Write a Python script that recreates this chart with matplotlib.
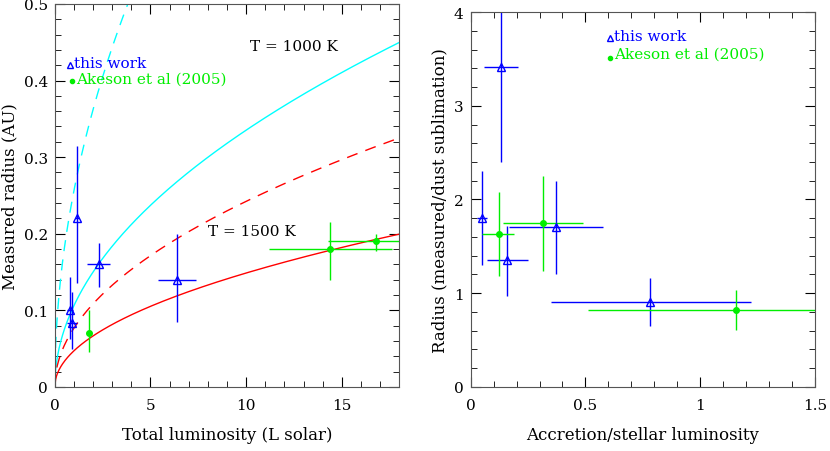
import numpy as np
import matplotlib
matplotlib.use("Agg")
import matplotlib.pyplot as plt
from matplotlib.ticker import MultipleLocator, FuncFormatter

plt.rcParams["font.family"] = "DejaVu Serif"

# left panel: radius vs total luminosity
lum_tw = [0.8, 0.9, 1.15, 2.3, 6.4]
rad_tw = [0.10, 0.083, 0.22, 0.16, 0.14]
rad_tw_lo = [0.037, 0.033, 0.085, 0.03, 0.055]
rad_tw_hi = [0.044, 0.041, 0.095, 0.028, 0.06]
lum_tw_err = [0.15, 0.25, 0.1, 0.6, 1.0]

lum_ak = [1.8, 14.4, 16.8]
rad_ak = [0.07, 0.18, 0.19]
rad_ak_lo = [0.025, 0.04, 0.012]
rad_ak_hi = [0.03, 0.035, 0.01]
lum_ak_lo = [0.0, 3.2, 2.5]
lum_ak_hi = [0.0, 3.2, 1.5]

# sqrt(L) sublimation radius coefficients
coef_1000 = 0.106
coef_1500 = 0.047
coef_1000_dash = 0.256
coef_1500_dash = 0.0766

# right panel: ratio vs accretion/stellar luminosity
acc_tw = [0.134, 0.05, 0.16, 0.37, 0.78]
acc_tw_lo = [0.074, 0.02, 0.09, 0.203, 0.432]
acc_tw_hi = [0.071, 0.02, 0.09, 0.205, 0.44]
ratio_tw = [3.41, 1.8, 1.35, 1.71, 0.91]
ratio_tw_lo = [1.01, 0.5, 0.38, 0.51, 0.26]
ratio_tw_hi = [0.7, 0.5, 0.37, 0.49, 0.25]

acc_ak = [0.122, 0.317, 1.154]
acc_ak_lo = [0.072, 0.177, 0.644]
acc_ak_hi = [0.068, 0.173, 0.65]
ratio_ak = [1.63, 1.75, 0.82]
ratio_ak_lo = [0.45, 0.51, 0.21]
ratio_ak_hi = [0.45, 0.5, 0.21]

BLUE = "#0000ff"
GREEN = "#00ee00"


def short(v, pos):
    return f"{v:g}"


fig = plt.figure(figsize=(8.3, 4.52), dpi=100)
ax1 = fig.add_axes([0.066, 0.142, 0.415, 0.847])
ax2 = fig.add_axes([0.567, 0.142, 0.415, 0.829])

L = np.linspace(0, 18, 400)
ax1.plot(L, coef_1000 * np.sqrt(L), color="cyan", lw=1)
ax1.plot(L, coef_1500 * np.sqrt(L), color="red", lw=1)
ax1.plot(L, coef_1000_dash * np.sqrt(L), color="cyan", lw=1, ls=(0, (8, 6)))
ax1.plot(L, coef_1500_dash * np.sqrt(L), color="red", lw=1, ls=(0, (8, 6)))

ax1.errorbar(lum_tw, rad_tw, xerr=lum_tw_err, yerr=[rad_tw_lo, rad_tw_hi],
             fmt="^", mfc="none", mec=BLUE, ms=6, color=BLUE, ecolor=BLUE,
             elinewidth=1, capsize=0)
ax1.errorbar(lum_ak, rad_ak, xerr=[lum_ak_lo, lum_ak_hi], yerr=[rad_ak_lo, rad_ak_hi],
             fmt="o", ms=4, color=GREEN, ecolor=GREEN, elinewidth=1, capsize=0)

ax1.plot([0.8], [0.42], "^", mfc="none", mec=BLUE, ms=5)
ax1.text(1.0, 0.423, "this work", color=BLUE, fontsize=11, va="center")
ax1.plot([0.9], [0.40], "o", color=GREEN, ms=3)
ax1.text(1.1, 0.403, "Akeson et al (2005)", color=GREEN, fontsize=11, va="center")
ax1.text(10.2, 0.44, "T = 1000 K", fontsize=11)
ax1.text(8.0, 0.198, "T = 1500 K", fontsize=11)

ax1.set_xlim(0, 18)
ax1.set_ylim(0, 0.5)
ax1.xaxis.set_major_locator(MultipleLocator(5))
ax1.xaxis.set_minor_locator(MultipleLocator(1))
ax1.yaxis.set_major_locator(MultipleLocator(0.1))
ax1.yaxis.set_minor_locator(MultipleLocator(0.02))
ax1.set_xlabel("Total luminosity (L solar)", fontsize=12, labelpad=10)
ax1.set_ylabel("Measured radius (AU)", fontsize=12)

ax2.errorbar(acc_tw, ratio_tw, xerr=[acc_tw_lo, acc_tw_hi], yerr=[ratio_tw_lo, ratio_tw_hi],
             fmt="^", mfc="none", mec=BLUE, ms=6, color=BLUE, ecolor=BLUE,
             elinewidth=1, capsize=0)
ax2.errorbar(acc_ak, ratio_ak, xerr=[acc_ak_lo, acc_ak_hi], yerr=[ratio_ak_lo, ratio_ak_hi],
             fmt="o", ms=4, color=GREEN, ecolor=GREEN, elinewidth=1, capsize=0)

ax2.plot([0.607], [3.72], "^", mfc="none", mec=BLUE, ms=5)
ax2.text(0.625, 3.75, "this work", color=BLUE, fontsize=11, va="center")
ax2.plot([0.607], [3.51], "o", color=GREEN, ms=3)
ax2.text(0.625, 3.56, "Akeson et al (2005)", color=GREEN, fontsize=11, va="center")

ax2.set_xlim(0, 1.5)
ax2.set_ylim(0, 4)
ax2.xaxis.set_major_locator(MultipleLocator(0.5))
ax2.xaxis.set_minor_locator(MultipleLocator(0.1))
ax2.yaxis.set_major_locator(MultipleLocator(1))
ax2.yaxis.set_minor_locator(MultipleLocator(0.2))
ax2.set_xlabel("Accretion/stellar luminosity", fontsize=12, labelpad=10)
ax2.set_ylabel("Radius (measured/dust sublimation)", fontsize=12)

for ax in (ax1, ax2):
    ax.xaxis.set_major_formatter(FuncFormatter(short))
    ax.yaxis.set_major_formatter(FuncFormatter(short))
    ax.tick_params(which="both", direction="in", top=True, right=True, labelsize=11)
    ax.tick_params(which="major", length=7)
    ax.tick_params(which="minor", length=4)
    ax.tick_params(axis="x", pad=8)
    ax.tick_params(axis="y", pad=5)
    for s in ax.spines.values():
        s.set_color("#555555")

fig.savefig("out.png", dpi=100)
